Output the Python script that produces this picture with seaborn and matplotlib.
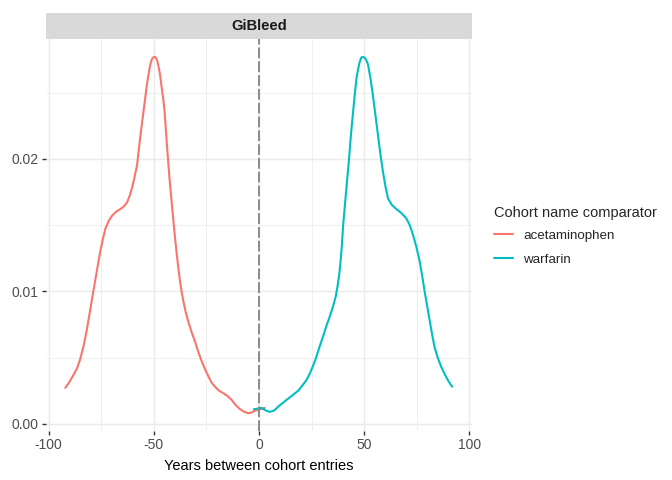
import numpy as np
import pandas as pd
import matplotlib
matplotlib.use("Agg")
import matplotlib.pyplot as plt
from matplotlib.patches import Rectangle
import seaborn as sns

# ---- data ----
acet_x = [-92.1, -90.0, -88.0, -86.5, -85.0, -83.4, -82.0, -80.2, -79.0, -77.8,
          -76.5, -75.5, -74.3, -73.1, -71.5, -69.9, -68.0, -66.0, -64.3, -62.8,
          -61.5, -60.4, -59.2, -58.0, -56.5, -54.9, -53.3, -52.4, -51.7, -51.0,
          -50.3, -49.7, -49.0, -48.4, -47.8, -47.0, -46.2, -45.5, -44.9, -43.8,
          -42.6, -41.1, -39.9, -39.1, -38.3, -37.5, -36.7, -35.9, -34.8, -33.6,
          -32.0, -30.4, -28.8, -27.2, -25.6, -24.1, -22.5, -20.9, -19.0, -16.9,
          -15.0, -13.0, -11.0, -9.0, -7.0, -5.1, -3.5, -1.9, 0.5, 2.8]
acet_y = [0.00271, 0.00320, 0.00375, 0.00420, 0.00490, 0.00589, 0.00700, 0.00865, 0.00980, 0.0109,
          0.0121, 0.0130, 0.0139, 0.0147, 0.0153, 0.0157, 0.0160, 0.0162, 0.0164, 0.0167,
          0.0172, 0.0178, 0.0186, 0.0195, 0.0216, 0.0236, 0.0256, 0.0265, 0.0271, 0.0275,
          0.02765, 0.0277, 0.02763, 0.0274, 0.0270, 0.0263, 0.0253, 0.0245, 0.0236, 0.0211,
          0.0186, 0.0160, 0.0140, 0.0128, 0.0117, 0.0107, 0.0099, 0.0092, 0.0084, 0.0077,
          0.0069, 0.0062, 0.0054, 0.0047, 0.0041, 0.0036, 0.0031, 0.0028, 0.0025, 0.0023,
          0.0021, 0.0018, 0.0014, 0.0011, 0.0009, 0.0008, 0.00085, 0.0010, 0.0011, 0.0012]

warf_x = [-2.4, -0.5, 1.3, 3.2, 5.2, 7.2, 9.2, 11.5, 13.9, 16.3,
          18.7, 20.7, 22.6, 24.2, 25.8, 27.4, 29.0, 30.5, 32.1, 33.7,
          35.3, 36.5, 37.4, 38.2, 38.9, 39.5, 40.0, 41.1, 42.0, 42.9,
          43.8, 44.8, 45.6, 46.4, 47.2, 47.9, 48.7, 49.5, 50.5, 51.2,
          51.9, 53.0, 54.2, 55.4, 56.6, 57.8, 59.0, 60.2, 61.4, 63.3,
          65.4, 67.8, 70.1, 71.7, 73.2, 74.8, 76.4, 77.6, 78.8, 80.0,
          81.2, 82.3, 83.5, 85.0, 86.7, 88.5, 90.2, 91.9]
warf_y = [0.0011, 0.00115, 0.0012, 0.0010, 0.0009, 0.0010, 0.0013, 0.0016, 0.0019, 0.0022,
          0.0025, 0.0029, 0.0033, 0.0038, 0.0044, 0.0051, 0.0059, 0.0066, 0.0074, 0.0081,
          0.0089, 0.0096, 0.0104, 0.0113, 0.0124, 0.0136, 0.0149, 0.0169, 0.0185, 0.0201,
          0.0219, 0.0236, 0.0249, 0.0261, 0.0268, 0.0273, 0.02765, 0.0277, 0.0276, 0.0274,
          0.0271, 0.0261, 0.0248, 0.0233, 0.0218, 0.0203, 0.0190, 0.0179, 0.0170, 0.0165,
          0.0162, 0.0159, 0.0155, 0.0150, 0.0143, 0.0134, 0.0123, 0.0112, 0.0100, 0.0089,
          0.0078, 0.0068, 0.0058, 0.0050, 0.0043, 0.0037, 0.0032, 0.0028]

groups = ["acetaminophen", "warfarin"]
colors = ["#F8766D", "#00BFC4"]
panel_title = "GiBleed"
x_label = "Years between cohort entries"
legend_title = "Cohort name comparator"
x_ticks = [-100, -50, 0, 50, 100]
y_ticks = [0.00, 0.01, 0.02]

df = pd.concat([
    pd.DataFrame({"x": acet_x, "y": acet_y, "group": groups[0]}),
    pd.DataFrame({"x": warf_x, "y": warf_y, "group": groups[1]}),
], ignore_index=True)

# ---- style ----
sns.set_theme(style="white")
plt.rcParams["font.family"] = ["Liberation Sans", "DejaVu Sans"]

fig = plt.figure(figsize=(6.72, 4.80), dpi=100)
W, H = 672, 480
pl, pr, pt, pb = 46, 471.5, 39, 431
ax = fig.add_axes([pl / W, 1 - pb / H, (pr - pl) / W, (pb - pt) / H])
ax.set_facecolor("white")

# grid
ax.set_xticks(x_ticks)
ax.set_yticks(y_ticks)
ax.set_xticks([-75, -25, 25, 75], minor=True)
ax.set_yticks([0.005, 0.015, 0.025], minor=True)
ax.grid(which="major", color="#EBEBEB", linewidth=1.05)
ax.grid(which="minor", color="#EBEBEB", linewidth=0.55)
ax.set_axisbelow(True)
for s in ax.spines.values():
    s.set_visible(False)

sns.lineplot(data=df, x="x", y="y", hue="group", palette=colors,
             hue_order=groups, estimator=None, sort=False,
             linewidth=1.5, ax=ax)

ax.axvline(0, color="#8A8A8A", linewidth=1.4, linestyle=(0, (5.5, 1.6)), zorder=3)

# limits with ggplot-like 5% expansion
allx = np.array(acet_x + warf_x)
ally = np.array(acet_y + warf_y)
xr = allx.max() - allx.min()
yr = ally.max() - ally.min()
ax.set_xlim(allx.min() - 0.05 * xr, allx.max() + 0.05 * xr)
ax.set_ylim(ally.min() - 0.05 * yr, ally.max() + 0.05 * yr)

ax.set_xticklabels([f"{t}" for t in x_ticks])
ax.set_yticklabels([f"{t:.2f}" for t in y_ticks])
ax.tick_params(axis="both", which="major", length=2.7, width=1.0, color="#333333",
               labelsize=10, labelcolor="#4D4D4D", pad=2.5, bottom=True, left=True)
ax.tick_params(axis="both", which="minor", length=0)
ax.set_xlabel(x_label, fontsize=10.56, color="black", labelpad=5)
ax.set_ylabel("")

# facet strip
sh = 26 / (pb - pt)
ax.add_patch(Rectangle((0, 1), 1, sh, transform=ax.transAxes, facecolor="#D9D9D9",
                       edgecolor="none", clip_on=False))
ax.text(0.5, 1 + sh / 2, panel_title, transform=ax.transAxes, ha="center", va="center",
        fontsize=10.6, fontweight="bold", color="#1A1A1A")

# legend
handles, labels = ax.get_legend_handles_labels()
leg = ax.legend(handles=handles, labels=labels, title=legend_title,
                loc="upper left", bbox_to_anchor=(494 / W, 1 - 206 / H),
                bbox_transform=fig.transFigure, frameon=False,
                fontsize=9.6, title_fontsize=10.56, alignment="left",
                handlelength=1.45, handletextpad=0.72, labelspacing=0.85,
                borderpad=0, borderaxespad=0)
leg._legend_box.sep = 7
for line in leg.get_lines():
    line.set_linewidth(1.5)

fig.savefig("out.png", dpi=100)
